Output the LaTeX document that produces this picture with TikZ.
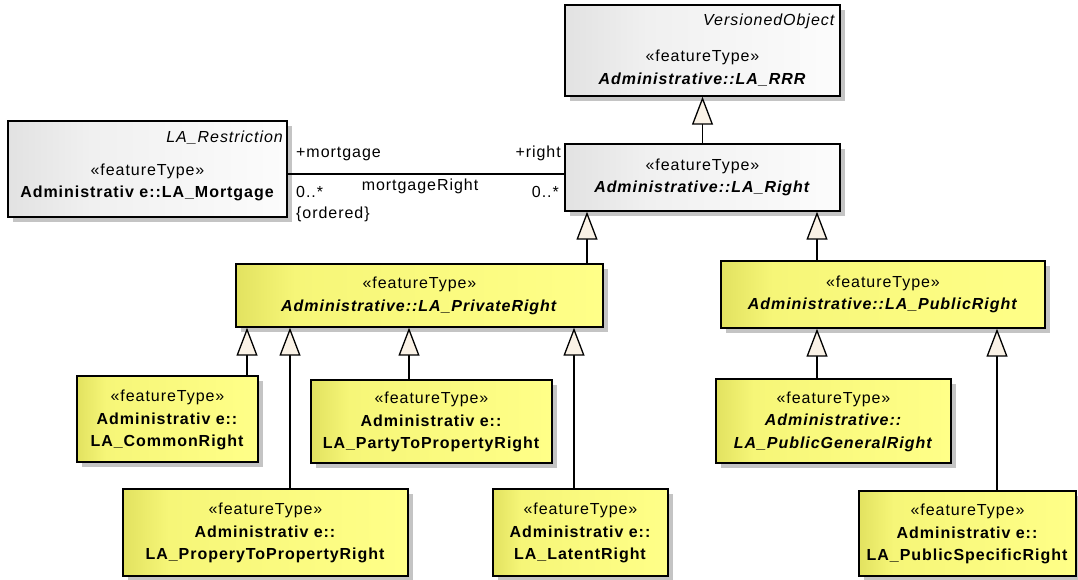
\documentclass[tikz,border=0pt]{standalone}
\usepackage{fontspec}
\setmainfont{Liberation Sans}[LetterSpace=6]
\usetikzlibrary{arrows.meta,shadows}
\definecolor{yl}{RGB}{226,226,96}
\definecolor{ym}{RGB}{246,246,120}
\definecolor{yr}{RGB}{255,255,136}
\definecolor{gl}{RGB}{226,226,226}
\definecolor{gm}{RGB}{240,240,240}
\definecolor{gr}{RGB}{252,252,252}
\definecolor{tri}{RGB}{250,242,230}
\definecolor{shd}{RGB}{196,196,196}
\pgfdeclarehorizontalshading{yshade}{100bp}{color(0bp)=(yl); color(25bp)=(yl); color(33bp)=(ym); color(75bp)=(yr); color(100bp)=(yr)}
\pgfdeclarehorizontalshading{gshade}{100bp}{color(0bp)=(gl); color(25bp)=(gl); color(40bp)=(gm); color(75bp)=(gr); color(100bp)=(gr)}
\begin{document}
\begin{tikzpicture}[x=1pt,y=-1pt,
  box/.style={rectangle, draw=black, line width=1.4pt, inner sep=0pt, shade,
    drop shadow={shadow xshift=5pt, shadow yshift=-5pt, fill=shd, opacity=1}},
  ybox/.style={box, shading=yshade},
  gbox/.style={box, shading=gshade},
  txt/.style={align=center, inner sep=0pt, font=\fontsize{16}{22.5}\selectfont},
  lbl/.style={inner sep=0pt, text height=11.5pt, text depth=3pt, font=\fontsize{16}{18}\selectfont},
  gen/.style={line width=1.3pt, -{Triangle[length=28pt,width=21pt,fill=tri,line join=miter]}},
  assoc/.style={line width=1.3pt}
]
\useasboundingbox (0,0) rectangle (1078,579);

% boxes
\node[gbox, minimum width=275pt, minimum height=91pt] (rrr) at (702.5,50.5) {};
\node[gbox, minimum width=275pt, minimum height=67pt] (right) at (702.5,177.5) {};
\node[gbox, minimum width=279pt, minimum height=96pt] (mort) at (147.5,169) {};
\node[ybox, minimum width=367pt, minimum height=63pt] (priv) at (419.5,295.5) {};
\node[ybox, minimum width=324pt, minimum height=67pt] (pub) at (883,294.5) {};
\node[ybox, minimum width=181pt, minimum height=86pt] (common) at (167.5,419) {};
\node[ybox, minimum width=241pt, minimum height=83pt] (party) at (431.5,421.5) {};
\node[ybox, minimum width=285pt, minimum height=87pt] (prop) at (265.5,532.5) {};
\node[ybox, minimum width=175pt, minimum height=87pt] (latent) at (580.5,532.5) {};
\node[ybox, minimum width=235pt, minimum height=84pt] (pubgen) at (833.5,421) {};
\node[ybox, minimum width=217pt, minimum height=85pt] (pubspec) at (967.5,533.5) {};

% texts
\node[lbl, anchor=east] (rrrv) at (836,21) {\textit{VersionedObject}};
\node[txt] (rrrt) at (702.5,68) {«featureType»\\\textbf{\textit{Administrative::LA\_RRR}}};
\node[txt] (rightt) at (702.5,177.5) {«featureType»\\\textbf{\textit{Administrative::LA\_Right}}};
\node[lbl, anchor=east] (mortv) at (284,138) {\textit{LA\_Restriction}};
\node[txt] (mortt) at (147.5,182.5) {«featureType»\\\textbf{Administrativ e::LA\_Mortgage}};
\node[txt] (privt) at (419.5,296) {«featureType»\\\textbf{\textit{Administrative::LA\_PrivateRight}}};
\node[txt] (pubt) at (883,294.5) {«featureType»\\\textbf{\textit{Administrative::LA\_PublicRight}}};
\node[txt] (commont) at (167.5,420) {«featureType»\\\textbf{Administrativ e::}\\\textbf{LA\_CommonRight}};
\node[txt] (partyt) at (431.5,422) {«featureType»\\\textbf{Administrativ e::}\\\textbf{LA\_PartyToPropertyRight}};
\node[txt] (propt) at (265.5,533) {«featureType»\\\textbf{Administrativ e::}\\\textbf{LA\_ProperyToPropertyRight}};
\node[txt] (latentt) at (580.5,533) {«featureType»\\\textbf{Administrativ e::}\\\textbf{LA\_LatentRight}};
\node[txt] (pubgent) at (833.5,421.5) {«featureType»\\\textbf{\textit{Administrative::}}\\\textbf{\textit{LA\_PublicGeneralRight}}};
\node[txt] (pubspect) at (967.5,534) {«featureType»\\\textbf{Administrativ e::}\\\textbf{LA\_PublicSpecificRight}};

% association
\coordinate (ya) at (0,174);
\draw[assoc] (mort.east |- ya) -- (right.west |- ya);
\node[lbl, anchor=west] (m1) at (296,153) {+mortgage};
\node[lbl, anchor=east] (r1) at (561,153) {+right};
\node[lbl, anchor=west] (m2) at (296,193) {0..*};
\node[lbl, anchor=west] (m3) at (296,214) {\{ordered\}};
\node[lbl] (an) at (420,186) {mortgageRight};
\node[lbl, anchor=east] (r2) at (559,193) {0..*};

% generalizations
\coordinate (xa) at (587,0);
\coordinate (xb) at (817,0);
\coordinate (xc) at (247,0);
\coordinate (xd) at (290,0);
\coordinate (xe) at (409,0);
\coordinate (xf) at (574,0);
\coordinate (xh) at (997,0);
\draw[gen] (right.north) -- (rrr.south);
\draw[gen] (priv.north -| xa) -- (right.south -| xa);
\draw[gen] (pub.north -| xb) -- (right.south -| xb);
\draw[gen] (common.north -| xc) -- (priv.south -| xc);
\draw[gen] (prop.north -| xd) -- (priv.south -| xd);
\draw[gen] (party.north -| xe) -- (priv.south -| xe);
\draw[gen] (latent.north -| xf) -- (priv.south -| xf);
\draw[gen] (pubgen.north -| xb) -- (pub.south -| xb);
\draw[gen] (pubspec.north -| xh) -- (pub.south -| xh);
\end{tikzpicture}
\end{document}
